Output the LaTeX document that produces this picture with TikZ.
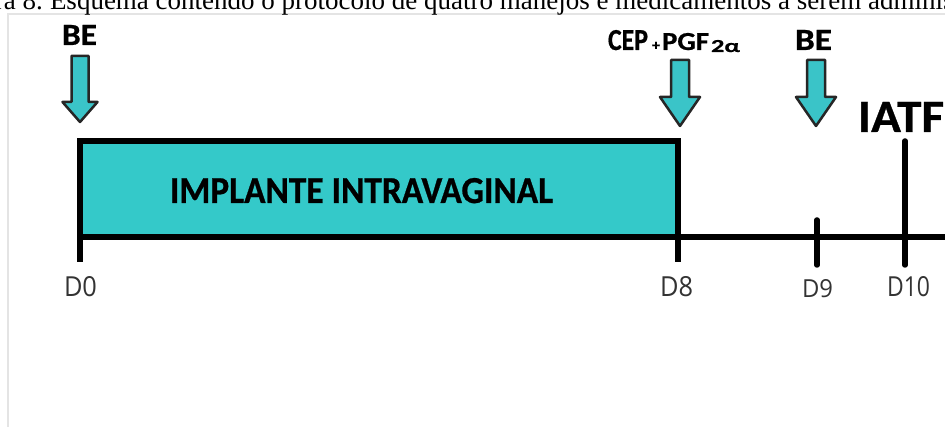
\documentclass[tikz,border=0pt]{standalone}
\usepackage{fontspec}
\usepackage{graphicx}
\setmainfont{Liberation Serif}
\newfontfamily\lblfont{Carlito}[BoldFeatures={FakeBold=0.7}]
\newfontfamily\dayfont{Open Sans}
\definecolor{tealfill}{RGB}{52,201,201}
\definecolor{arrowfill}{RGB}{58,196,200}
\definecolor{framegray}{RGB}{228,228,228}
\newcommand{\fitbox}[3]{\resizebox{#1pt}{#2pt}{#3}}
\newcommand{\myarrow}[6]{%
  \draw[arrowsty] (#1-#5,#2) -- (#1+#5,#2) -- (#1+#5,#3) -- (#1+#6,#3) -- (#1,#4)
    -- (#1-#6,#3) -- (#1-#5,#3) -- cycle;}
\tikzset{
  lbl/.style={inner sep=0pt, outer sep=0pt, anchor=base west},
  arrowsty/.style={draw=black!85, fill=arrowfill, line width=2.5pt, line join=round},
  boxsty/.style={draw=black, fill=tealfill, line width=5.5pt, inner sep=0pt,
    minimum width=598pt, minimum height=95.5pt},
  axis/.style={draw=black, line width=6pt},
  tick/.style={draw=black, line width=5.5pt, line cap=round},
}
\begin{document}
\begin{tikzpicture}[x=1pt, y=-1pt]
\useasboundingbox (0,0) rectangle (945,427);
\clip (0,0) rectangle (945,427);
\fill[white] (0,0) rectangle (945,427);
% frame of the photo
\draw[framegray, line width=1.5pt] (8,427) -- (8,14) -- (945,14);
% caption (cut off at the top edge)
\node[lbl] (cap) at (50,10) {\fontsize{27}{30}\selectfont Esquema contendo o protocolo de quatro manejos e medicamentos a serem administrados};
\node[inner sep=0pt, anchor=base east] (capfig) at ([xshift=-7pt]cap.base west) {\fontsize{27}{30}\selectfont Figura 8.};
% timeline
\coordinate (t0) at (80,237);
\coordinate (tend) at (950,237);
\draw[axis] (t0) -- (tend);
% implant box
\node[boxsty] (implante) at (378.75,189) {};
\node[lbl] (implantetxt) at (170,203) {\fitbox{383}{25}{\lblfont\bfseries IMPLANTE INTRAVAGINAL}};
% ticks
\coordinate (d0top) at (80,237);   \coordinate (d0bot) at (80,262);
\coordinate (d8top) at (678,237);  \coordinate (d8bot) at (678,262);
\coordinate (d9top) at (817,220);  \coordinate (d9bot) at (817,265);
\coordinate (d10top) at (905,141); \coordinate (d10bot) at (905,265);
\draw[tick, line cap=butt] (d0top) -- (d0bot);
\draw[tick, line cap=butt] (d8top) -- (d8bot);
\draw[tick] (d9top) -- (d9bot);
\draw[tick] (d10top) -- (d10bot);
% day labels
\node[lbl] (d0) at (64,297) {\fitbox{33}{20}{\color{black!80}\dayfont D0}};
\node[lbl] (d8) at (660,297) {\fitbox{33}{20}{\color{black!80}\dayfont D8}};
\node[lbl] (d9) at (802,298) {\fitbox{31}{18}{\color{black!80}\dayfont D9}};
\node[lbl] (d10) at (887,297) {\fitbox{43}{20}{\color{black!80}\dayfont D10}};
% arrows
\myarrow{80}{56}{102}{122}{8.5}{17.5}
\myarrow{680}{60}{97}{126}{9}{20}
\myarrow{816}{60}{97}{126}{9}{20}
% top labels
\node[lbl] (be0) at (62,45) {\fitbox{35}{20}{\lblfont\bfseries BE}};
\node[lbl] (cep) at (608,50) {\fitbox{40}{20}{\lblfont\bfseries CEP}};
\node[lbl] (plus) at (652,50) {\fitbox{8}{8}{\lblfont\bfseries +}};
\node[lbl] (pgf) at (662,50) {\fitbox{47}{17}{\lblfont\bfseries PGF}};
\node[lbl] (pgfsub) at (711,52) {\fitbox{29}{12}{\lblfont\bfseries 2α}};
\node[lbl] (be9) at (795,50) {\fitbox{37}{20}{\lblfont\bfseries BE}};
\node[lbl] (iatf) at (858,132) {\fitbox{86}{30}{\lblfont\bfseries IATF}};
\end{tikzpicture}
\end{document}
